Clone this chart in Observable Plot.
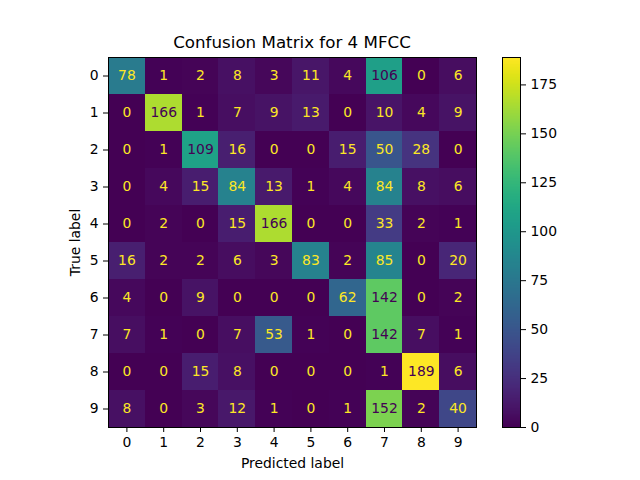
<!DOCTYPE html>
<html>
<head>
<meta charset="utf-8">
<script src="https://cdn.jsdelivr.net/npm/d3@7"></script>
<script src="https://cdn.jsdelivr.net/npm/@observablehq/plot@0.6"></script>
<style>
  body { margin: 0; background: white; font-family: "DejaVu Sans", sans-serif; }
  #wrap { position: relative; width: 640px; height: 480px; }
  #wrap svg { position: absolute; left: 0; top: 0; }
  #title { position: absolute; left: 108px; width: 368px; top: 32px; text-align: center;
           font-size: 16.7px; color: black; }
</style>
</head>
<body>
<div id="wrap">
  <div id="title">Confusion Matrix for 4 MFCC</div>
</div>
<script>
const labels = ["0", "1", "2", "3", "4", "5", "6", "7", "8", "9"]
// rows = true label, columns = predicted label
const counts = [
  [78, 1, 2, 8, 3, 11, 4, 106, 0, 6],
  [0, 166, 1, 7, 9, 13, 0, 10, 4, 9],
  [0, 1, 109, 16, 0, 0, 15, 50, 28, 0],
  [0, 4, 15, 84, 13, 1, 4, 84, 8, 6],
  [0, 2, 0, 15, 166, 0, 0, 33, 2, 1],
  [16, 2, 2, 6, 3, 83, 2, 85, 0, 20],
  [4, 0, 9, 0, 0, 0, 62, 142, 0, 2],
  [7, 1, 0, 7, 53, 1, 0, 142, 7, 1],
  [0, 0, 15, 8, 0, 0, 0, 1, 189, 6],
  [8, 0, 3, 12, 1, 0, 1, 152, 2, 40]
]
const colorbarTicks = [0, 25, 50, 75, 100, 125, 150, 175]

let cells = []
counts.forEach((row, i) => row.forEach((v, j) => cells.push({trueLabel: labels[i], predicted: labels[j], value: v})))

let vmax = d3.max(cells, d => d.value)
let vmin = d3.min(cells, d => d.value)
let thresh = (vmax + vmin) / 2

let fontStyle = {fontFamily: '"DejaVu Sans", sans-serif', fontSize: "13.9px", color: "black", background: "transparent", overflow: "visible"}

let chart = Plot.plot({
  width: 640,
  height: 480,
  marginLeft: 108,
  marginRight: 164,
  marginTop: 57,
  marginBottom: 53,
  x: {type: "band", domain: labels, padding: 0, round: false},
  y: {type: "band", domain: labels, padding: 0, round: false},
  color: {type: "linear", scheme: "viridis", domain: [0, vmax]},
  style: fontStyle,
  marks: [
    Plot.cell(cells, {x: "predicted", y: "trueLabel", fill: "value", inset: 0, shapeRendering: "crispEdges"}),
    Plot.text(cells.filter(d => d.value <= thresh), {x: "predicted", y: "trueLabel", text: d => String(d.value), fill: "#fde725", fontSize: 13.9}),
    Plot.text(cells.filter(d => d.value > thresh), {x: "predicted", y: "trueLabel", text: d => String(d.value), fill: "#440154", fontSize: 13.9}),
    Plot.frame({stroke: "black", strokeWidth: 1}),
    Plot.axisX({anchor: "bottom", tickSize: 5, tickPadding: 5, label: "Predicted label", labelAnchor: "center", labelOffset: 40}),
    Plot.axisY({anchor: "left", tickSize: 5, tickPadding: 5, label: "True label", labelAnchor: "center", labelOffset: 38})
  ]
})

let colorbar = Plot.plot({
  width: 640,
  height: 480,
  marginLeft: 502,
  marginRight: 120,
  marginTop: 57,
  marginBottom: 53,
  x: {domain: [0, 1], axis: null},
  y: {domain: [0, vmax]},
  color: {type: "linear", scheme: "viridis", domain: [0, vmax]},
  style: fontStyle,
  marks: [
    Plot.raster({x1: 0, x2: 1, y1: 0, y2: vmax, width: 1, height: 370, fill: (x, y) => y, imageRendering: "auto"}),
    Plot.frame({stroke: "black", strokeWidth: 1}),
    Plot.axisY({anchor: "right", ticks: colorbarTicks, tickSize: 5, tickPadding: 5, label: null})
  ]
})

d3.select("#wrap").append(() => chart)
d3.select("#wrap").append(() => colorbar)
</script>
</body>
</html>
